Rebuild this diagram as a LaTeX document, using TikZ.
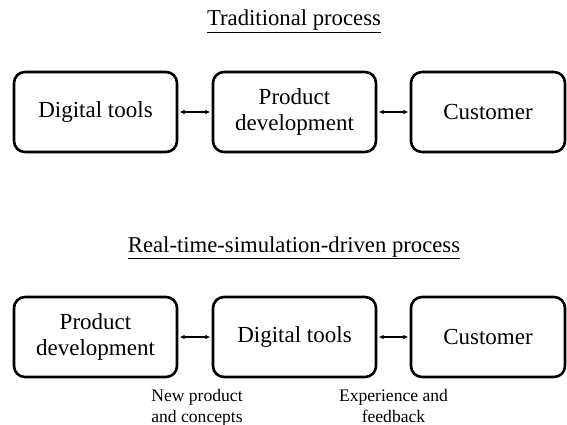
\documentclass[tikz,border=0pt]{standalone}
\usepackage{fontspec}
\setmainfont{Liberation Serif}
\usetikzlibrary{arrows.meta}
\begin{document}
\begin{tikzpicture}[x=1pt,y=-1pt,
  procbox/.style={draw, line width=2.6pt, rounded corners=11pt, align=center,
    minimum height=80pt, inner sep=0pt,
    font=\fontsize{23}{26.5}\selectfont},
  heading/.style={anchor=base, inner sep=0pt, font=\fontsize{22.7}{26}\selectfont},
  note/.style={anchor=base, align=center, inner sep=0pt,
    font=\fontsize{17.6}{21}\selectfont},
  link/.style={{Latex[length=5pt,width=4.5pt]}-{Latex[length=5pt,width=4.5pt]},
    line width=1.3pt, shorten <=1.3pt, shorten >=1.3pt}]
\useasboundingbox (0,0) rectangle (567,425);

% Traditional process
\node[heading] (t1) at (294,26) {\underline{Traditional process}};
\node[procbox, minimum width=163pt] (a1) at (95.5,112) {Digital tools};
\node[procbox, minimum width=163pt] (a2) at (294.5,112) {Product\\development};
\node[procbox, minimum width=154pt] (a3) at (488,112) {Customer};
\draw[link] (a1.east) -- (a2.west);
\draw[link] (a2.east) -- (a3.west);

% Real-time-simulation-driven process
\node[heading] (t2) at (294,252) {\underline{Real-time-simulation-driven process}};
\node[procbox, minimum width=163pt] (b1) at (95.5,337) {Product\\development};
\node[procbox, minimum width=163pt] (b2) at (294.5,337) {Digital tools};
\node[procbox, minimum width=154pt] (b3) at (488,337) {Customer};
\draw[link] (b1.east) -- (b2.west);
\draw[link] (b2.east) -- (b3.west);

% the base anchor of a two-line note sits on its last line
\node[note] (n1) at (197,422) {New product\\and concepts};
\node[note] (n2) at (393.5,422) {Experience and\\feedback};
\end{tikzpicture}
\end{document}
